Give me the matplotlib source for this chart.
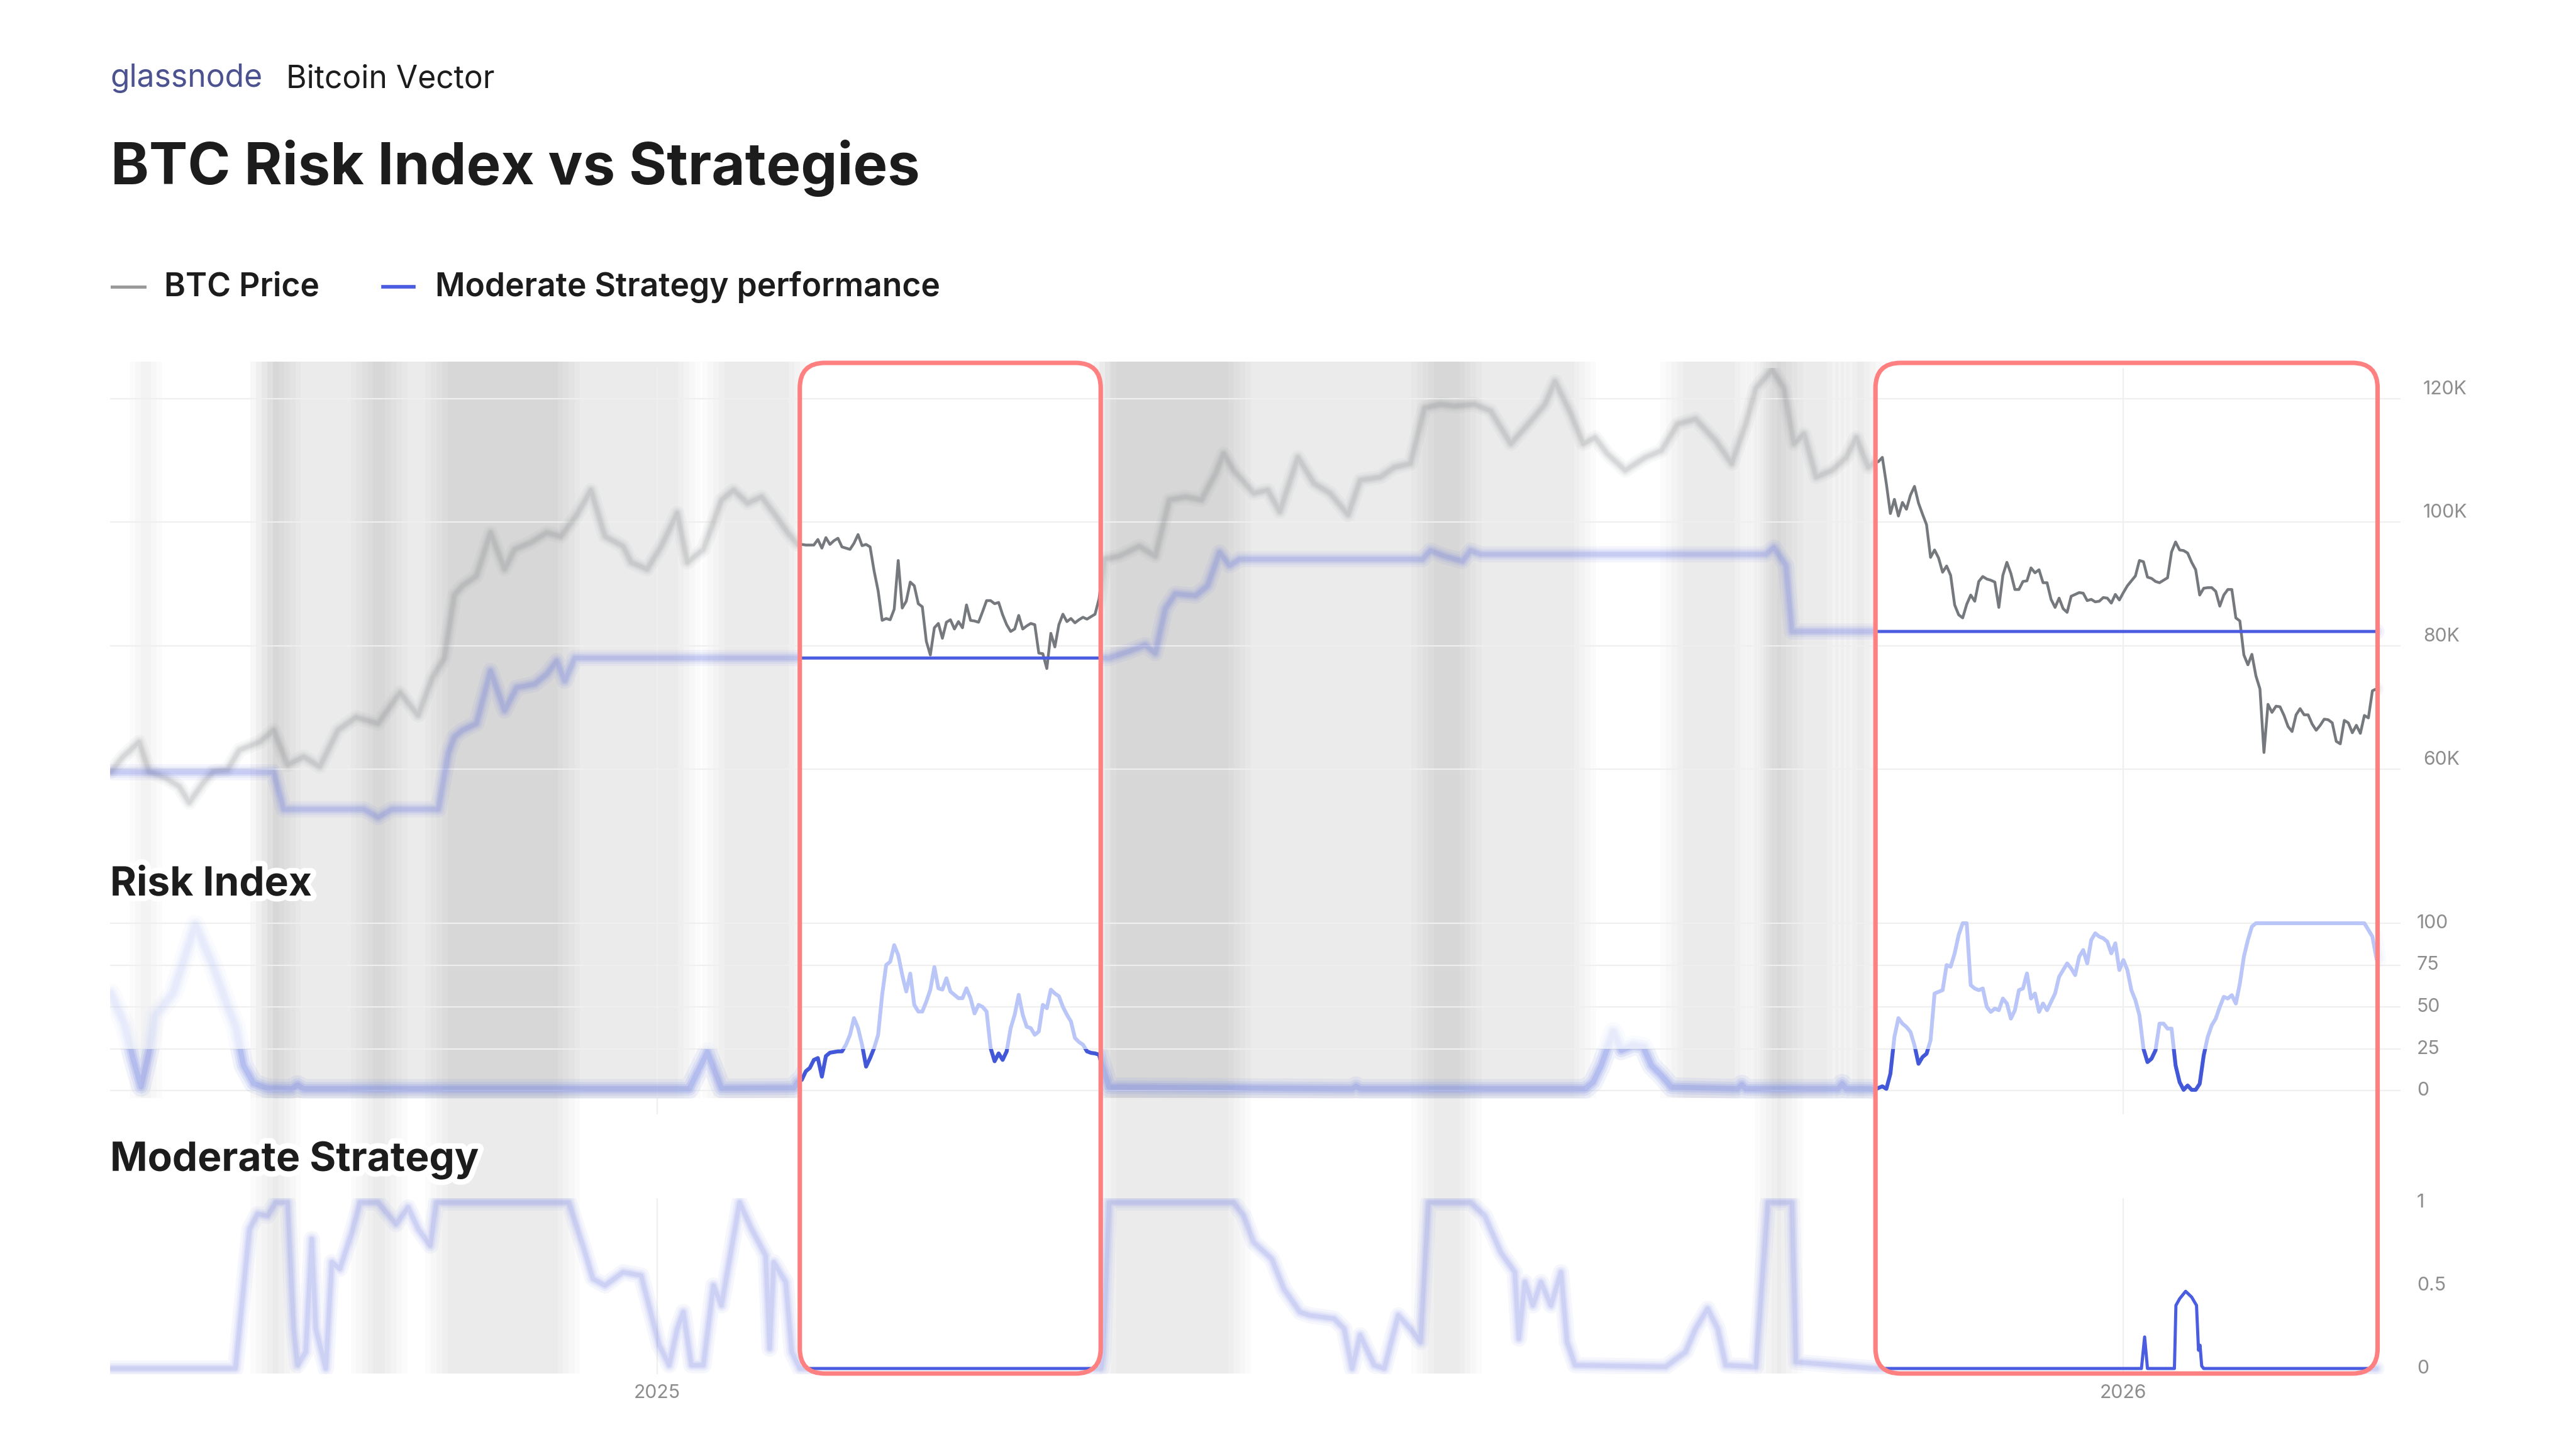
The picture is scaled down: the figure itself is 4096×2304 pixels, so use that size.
import numpy as np
import matplotlib
matplotlib.use("Agg")
import matplotlib.pyplot as plt
import matplotlib.dates as mdates
import matplotlib.patheffects as pe
from matplotlib import transforms as mtransforms
from matplotlib.lines import Line2D
from matplotlib.patches import FancyBboxPatch, Rectangle

plt.rcParams["font.family"] = ["Inter", "DejaVu Sans"]

# ---- data: x in days since 2025-01-01, prices in thousands of USD ----
EPOCH = np.datetime64("2025-01-01T00:00")

PRICE_EARLY_DAYS = [-136, -133, -129, -126.5, -122.5, -119, -116.5, -113, -110.5, -107,
                    -104, -99, -95.5, -92, -88, -84, -79.5, -75, -69.5, -64,
                    -59.5, -56, -53, -50.5, -48.5, -45, -41.5, -38, -35.5, -31.5,
                    -27.5, -24, -20, -16.5, -13, -8.5, -6.5, -2.5, 1, 5,
                    7.5, 11.5, 16, 19, 22.5, 26, 29, 32.5]
PRICE_EARLY = [59.6, 62.0, 64.4, 59.6, 58.6, 57.2, 54.6, 57.8, 59.6, 59.9,
               63.1, 64.4, 66.3, 60.7, 62.0, 60.4, 66.3, 68.4, 67.4, 72.4,
               68.7, 74.8, 78.0, 88.2, 89.7, 91.3, 98.3, 92.4, 95.6, 96.7,
               98.3, 97.7, 101.2, 105.2, 97.7, 96.1, 93.5, 92.4, 96.1, 101.5,
               93.5, 95.6, 103.6, 105.2, 103.1, 104.1, 101.5, 98.3]

BOX1_FIRST = 35
PRICE_BOX1 = [96.4, 96.4, 96.3, 96.3, 96.3, 97.2, 95.8, 97.5, 96.4, 97.0,
              97.4, 96.0, 95.8, 95.6, 96.6, 98.0, 96.2, 96.4, 96.0, 92.1,
              88.9, 84.1, 84.4, 84.2, 85.9, 93.8, 86.1, 87.2, 90.3, 89.7,
              86.8, 86.3, 80.7, 78.5, 82.9, 83.6, 81.2, 83.8, 84.2, 82.7,
              83.9, 82.9, 86.6, 84.1, 84.0, 83.8, 85.5, 87.3, 87.3, 86.8,
              87.0, 85.0, 83.4, 82.3, 82.7, 84.9, 82.7, 83.2, 83.6, 83.4,
              78.8, 78.7, 76.3, 82.0, 79.8, 83.4, 85.1, 83.9, 84.4, 83.7,
              84.2, 84.6, 84.3, 84.7, 85.1, 87.6]

PRICE_MID_DAYS = [111.3, 115, 120, 124, 127.5, 131.5, 135.5, 139, 141, 143.5,
                  148.5, 152, 155, 159.5, 163.5, 167.5, 172, 175, 180, 183.5,
                  187.5, 191, 195, 198.5, 203.5, 207.5, 212.5, 217.5, 221, 223.5,
                  227.5, 230.5, 233.5, 236.5, 241, 246, 250, 254, 258.5, 263.5,
                  267.5, 271, 273.5, 277.5, 280.5, 283, 285.5, 288.5, 292.5, 296,
                  298.5, 301.5]
PRICE_MID = [94.0, 94.5, 96.1, 94.5, 103.6, 104.1, 103.6, 107.9, 111.1, 108.4,
             104.7, 105.2, 101.7, 110.5, 106.3, 104.7, 101.2, 106.8, 107.3, 108.9,
             109.5, 118.5, 119.1, 118.8, 119.1, 118.0, 112.7, 116.4, 119.1, 122.8,
             117.5, 112.7, 113.7, 111.1, 108.4, 110.5, 111.6, 115.9, 116.7, 113.2,
             109.5, 115.9, 121.7, 124.7, 121.7, 112.7, 114.3, 107.3, 108.4, 110.5,
             113.7, 108.9]

BOX2_FIRST = 303
PRICE_BOX2 = [109.6, 109.8, 110.5, 106.2, 101.4, 103.7, 101.0, 103.2, 102.1, 104.4,
              105.8, 103.1, 101.3, 99.6, 94.3, 95.5, 94.2, 91.9, 92.9, 91.4,
              86.6, 85.0, 84.5, 86.7, 88.2, 87.2, 90.4, 91.2, 90.8, 90.6,
              90.3, 86.2, 91.4, 93.5, 91.7, 89.1, 89.1, 90.4, 90.5, 92.6,
              91.8, 92.3, 90.2, 90.2, 87.5, 86.2, 87.7, 86.0, 85.4, 88.0,
              88.3, 88.6, 88.5, 87.3, 87.5, 87.1, 87.2, 87.8, 87.7, 86.9,
              88.3, 87.4, 88.6, 89.7, 90.5, 91.3, 93.8, 93.6, 91.1, 90.9,
              90.4, 90.2, 90.6, 91.0, 95.2, 96.8, 95.5, 95.4, 95.0, 93.5,
              92.3, 88.2, 89.3, 89.4, 89.4, 88.8, 86.4, 88.2, 89.1, 89.1,
              84.5, 84.0, 78.5, 76.9, 78.6, 75.1, 73.0, 62.7, 70.5, 69.2,
              70.2, 70.1, 68.7, 66.9, 66.1, 68.8, 69.8, 68.8, 68.8, 67.3,
              66.3, 67.1, 68.1, 68.0, 67.5, 64.5, 64.1, 67.9, 67.5, 65.9,
              67.1, 65.8, 68.7, 68.3, 72.7, 73.0]

PERF_DAYS = [-136, -95.5, -93, -73, -69.5, -66, -54.5, -52, -50.5, -48.5,
             -45, -41.5, -38, -35, -30.5, -27.5, -25, -23, -20.5, 112.5,
             117.5, 121.5, 124, 126.5, 129, 134, 137, 140, 142.5, 145,
             190.5, 192.5, 196, 200.5, 202.5, 205, 276, 278, 281, 282.5,
             286, 428]
PERF = [59.5, 59.5, 53.5, 53.5, 52.2, 53.5, 53.5, 62.6, 65.2, 66.3,
        67.4, 75.9, 69.5, 73.2, 73.8, 75.4, 77.5, 74.3, 78.0, 78.0,
        79.1, 80.1, 78.8, 86.0, 88.4, 88.1, 89.7, 95.1, 93.0, 94.0,
        94.0, 95.4, 94.5, 93.7, 95.4, 94.8, 94.8, 95.9, 93.0, 82.3,
        82.3, 82.3]

RISK_EARLY_DAYS = [-136, -132.5, -130.5, -128.5, -126.5, -125, -120.5, -115, -110.5, -107,
                   -105, -103, -100.5, -97, -91, -89.5, -88, 8, 12.5, 16, 34]
RISK_EARLY = [58, 38.7, 19.0, 2.3, 23.0, 44.6, 58.4, 99.0, 74.2, 50.6,
              38.7, 15.1, 4.3, 1.3, 1.0, 3.3, 1.0, 1.0, 23.0, 1.3, 1.5]
RISK_BOX1 = [5, 6.4, 11.5, 13.5, 18.3, 19.4, 8.3, 20.6, 22.6, 23.0,
             23.4, 23.4, 27.4, 33.3, 43.3, 37.3, 27.4, 14.3, 19.4, 25.4,
             33.3, 57.2, 75.0, 77.0, 86.9, 81.0, 69.1, 59.2, 69.9, 51.2,
             47.2, 47.2, 53.2, 60.3, 73.8, 61.1, 60.3, 67.1, 59.2, 57.2,
             55.2, 55.2, 61.1, 55.2, 46.1, 51.2, 50.0, 47.2, 25.4, 17.5,
             22.2, 18.3, 23.4, 37.3, 45.3, 57.2, 45.3, 38.1, 37.3, 33.3,
             35.3, 51.2, 49.2, 60.3, 58.0, 56.4, 50.0, 45.3, 41.3, 31.4,
             29.0, 27.4, 23.4, 22.5, 22.2, 21.4]
RISK_MID_DAYS = [110.7, 112.5, 173, 174, 175, 231, 233, 235, 238, 240,
                 243, 245.5, 247.5, 250, 252.5, 269, 270, 271, 294, 295,
                 296, 302]
RISK_MID = [15, 2, 1, 2.5, 1, 1, 5, 15, 35, 24,
            27, 26, 15, 9, 2, 1, 3.5, 1, 1, 4,
            1, 1]
RISK_BOX2 = [0.4, 1.5, 2.5, 1.0, 10, 32, 43.3, 40, 38, 35,
             27, 16, 20, 22, 30, 58, 59, 60, 75, 74,
             82, 93, 100, 100, 63, 61, 60, 61, 50, 47,
             49, 48, 55, 52, 43, 48, 60, 61, 70, 55,
             58, 47, 52, 48, 53, 58, 68, 72, 76, 73,
             69, 80, 84, 76, 90, 94, 92, 91, 89, 82,
             88, 72, 78, 72, 60, 54, 45, 25, 17, 19,
             24, 40, 40, 37, 37, 15, 5, 0.4, 3, 0.4,
             0.4, 4, 21, 32, 39, 43, 50, 56, 55, 57,
             52, 64, 80, 90, 98, 100, 100, 100, 100, 100,
             100, 100, 100, 100, 100, 100, 100, 100, 100, 100,
             100, 100, 100, 100, 100, 100, 100, 100, 100, 100,
             100, 100, 100, 96, 92, 79]

STRAT_EARLY_DAYS = [-136, -105, -101.5, -99.5, -97, -95, -92, -90.5, -89.5, -87.5,
                    -86, -85, -82.5, -81, -79, -76, -74, -69.5, -65, -62,
                    -59.5, -56.5, -55, -22, -18.5, -16, -13, -8.5, -4, 0.5,
                    3, 5, 6.5, 8.5, 11.5, 14, 16, 20.5, 23.5, 27,
                    28, 29, 32, 33.5, 35.5]
STRAT_EARLY = [0, 0, 0.84, 0.93, 0.92, 1.0, 1.0, 0.24, 0.02, 0.10,
               0.78, 0.24, 0, 0.64, 0.60, 0.82, 1.0, 1.0, 0.87, 0.97,
               0.84, 0.74, 1.0, 1.0, 0.74, 0.54, 0.50, 0.58, 0.56, 0.14,
               0.02, 0.24, 0.34, 0.02, 0.02, 0.50, 0.38, 1.0, 0.84, 0.68,
               0.12, 0.64, 0.52, 0.10, 0.0]
STRAT_MID_DAYS = [110.5, 111, 112.5, 143.5, 146, 148.5, 153, 156, 160, 162.5,
                  168.5, 171, 173, 175, 178.5, 181, 184.5, 187.5, 190, 192,
                  202.5, 206, 210, 213.5, 214.5, 216, 218, 220, 222.5, 225,
                  226.5, 228.5, 251, 256, 258.5, 261.5, 264, 266, 273.5, 276.5,
                  282.5, 283.5, 303]
STRAT_MID = [0, 0.08, 1.0, 1.0, 0.92, 0.76, 0.66, 0.48, 0.34, 0.32,
             0.30, 0.24, 0, 0.20, 0.02, 0, 0.32, 0.24, 0.16, 1.0,
             1.0, 0.92, 0.70, 0.58, 0.18, 0.52, 0.38, 0.52, 0.38, 0.58,
             0.16, 0.02, 0.01, 0.10, 0.24, 0.36, 0.24, 0.02, 0.01, 1.0,
             1.0, 0.04, 0]
STRAT_LATE_DAYS = [303.5, 369.5, 370.3, 371, 377.7, 378.1, 379, 380.5, 382, 383.2,
                   383.7, 384.1, 384.5, 385, 428]
STRAT_LATE = [0, 0, 0.19, 0, 0, 0.38, 0.42, 0.465, 0.43, 0.38,
              0.11, 0.14, 0.015, 0, 0]

# shaded regimes (day ranges): price+risk panels only, and all three panels
SHADE_TOP = [(-128.5, -126), (-98.5, 8), (14, 35.5), (110, 231), (252.5, 271),
             (274, 294), (296, 303.3)]
SHADE_ALL = [(-98.5, -91.5), (-73.5, -65), (-55, -22), (111.5, 145), (190.5, 202.5),
             (276, 282.5)]
HIGHLIGHTS = [(35.5, 110.4), (303.3, 428.3)]

PRICE_TICKS = [60, 80, 100, 120]
PRICE_LABELS = ["60K", "80K", "100K", "120K"]
RISK_TICKS = [0, 25, 50, 75, 100]
RISK_LABELS = ["0", "25", "50", "75", "100"]
STRAT_TICKS = [0, 0.5, 1]
STRAT_LABELS = ["0", "0.5", "1"]
YEAR_DAYS = [0, 365]
YEAR_LABELS = ["2025", "2026"]
RISK_LOW = 25

# ---- layout, in pixels of the 4096 x 2304 canvas ----
W, H, DPI = 4096, 2304, 256
X0, X1 = 175, 3817
XLIM_DAYS = (-136.2, 434.0)
BG_PX = (575, 2184)
TOP_SHADE_BOTTOM = 1746
PRICE_PX, PRICE_REF = (585, 1360), ((120, 634), (60, 1223))
RISK_PX, RISK_REF = (1360, 1772), ((100, 1468), (0, 1734))
STRAT_PX, STRAT_REF = (1905, 2185), ((1, 1912), (0, 2176))
BOX_TOP, BOX_BOT, BOX_RADIUS = 577, 2184, 40

GREY_LINE = "#75787d"
BLUE = "#4a5cdf"
RISK_LIGHT = "#b9c6f7"
RISK_DARK = "#4357d9"
GRID = "#efefef"
TICK_C = "#8d8d8d"
BOX_C = "#ff8080"
TEXT_C = "#1c1c1c"


def xnum(days):
    hours = np.round(np.asarray(days, dtype=float) * 24).astype("int64")
    return mdates.date2num(EPOCH + hours.astype("timedelta64[h]"))


def daily(first, values):
    return np.arange(first, first + len(values))


price_x = xnum(np.concatenate([PRICE_EARLY_DAYS, daily(BOX1_FIRST, PRICE_BOX1),
                               PRICE_MID_DAYS, daily(BOX2_FIRST, PRICE_BOX2)]))
price_y = np.concatenate([PRICE_EARLY, PRICE_BOX1, PRICE_MID, PRICE_BOX2])
risk_x = xnum(np.concatenate([RISK_EARLY_DAYS, daily(BOX1_FIRST, RISK_BOX1),
                              RISK_MID_DAYS, daily(BOX2_FIRST, RISK_BOX2)]))
risk_y = np.concatenate([RISK_EARLY, RISK_BOX1, RISK_MID, RISK_BOX2])
strat_x = xnum(np.concatenate([STRAT_EARLY_DAYS, STRAT_MID_DAYS, STRAT_LATE_DAYS]))
strat_y = np.concatenate([STRAT_EARLY, STRAT_MID, STRAT_LATE])
perf_x = xnum(PERF_DAYS)
perf_y = np.asarray(PERF)

fig = plt.figure(figsize=(W / DPI, H / DPI), dpi=DPI, facecolor="white")
XLIM = (xnum(XLIM_DAYS[0]), xnum(XLIM_DAYS[1]))


def panel(top, bot, z):
    ax = fig.add_axes([X0 / W, 1 - bot / H, (X1 - X0) / W, (bot - top) / H], zorder=z)
    ax.set_axis_off()
    ax.set_xlim(XLIM)
    return ax


def ylim_for(px, ref):
    (va, pa), (vb, pb) = ref
    k = (vb - va) / (pb - pa)
    return va + (px[1] - pa) * k, va + (px[0] - pa) * k


def soft_span(ax, d0, d1, ymin, ymax, alpha=0.0161, spread=2.8, n=5):
    # stacked spans give the soft, blurred band edges
    for e in np.linspace(-spread, spread, n):
        a, b = d0 - e, d1 + e
        if b > a:
            ax.axvspan(xnum(a), xnum(b), ymin=ymin, ymax=ymax, color="black",
                       alpha=alpha, lw=0)


# wide faint strokes under narrower ones imitate a blurred line
BLUR_STROKES = [(5.2, 0.06), (3.6, 0.08), (2.4, 0.11), (1.4, 0.13)]


def blur_plot(ax, x, y, color, lw, strength=1.0, clip=None):
    for k, a in BLUR_STROKES:
        ln, = ax.plot(x, y, color=color, lw=lw * k, alpha=a * strength,
                      solid_joinstyle="round", solid_capstyle="round")
        if clip is not None:
            ln.set_clip_path(clip)


def disp_y(ax, v):
    return ax.transData.transform((XLIM[0], v))[1]


# background regimes
ax_bg = panel(BG_PX[0], BG_PX[1], 0)
ax_bg.set_ylim(0, 1)
top_frac = (BG_PX[1] - TOP_SHADE_BOTTOM) / (BG_PX[1] - BG_PX[0])
for d0, d1 in SHADE_ALL:
    soft_span(ax_bg, d0, d1, 0, 1)
for d0, d1 in SHADE_TOP:
    soft_span(ax_bg, d0, d1, top_frac, 1)

# blurred layer
bp, br, bm = panel(*PRICE_PX, 1), panel(*RISK_PX, 1), panel(*STRAT_PX, 1)
# crisp layer, shown only inside the highlight boxes
cp, cr, cm = panel(*PRICE_PX, 3), panel(*RISK_PX, 3), panel(*STRAT_PX, 3)
for ax, px, ref in [(bp, PRICE_PX, PRICE_REF), (br, RISK_PX, RISK_REF), (bm, STRAT_PX, STRAT_REF),
                    (cp, PRICE_PX, PRICE_REF), (cr, RISK_PX, RISK_REF), (cm, STRAT_PX, STRAT_REF)]:
    ax.set_ylim(ylim_for(px, ref))

for v in PRICE_TICKS:
    bp.axhline(v, color=GRID, lw=0.6, zorder=0)
for v in RISK_TICKS:
    br.axhline(v, color=GRID, lw=0.6, zorder=0)
for ax in (bp, br, bm):
    for d in YEAR_DAYS:
        ax.axvline(xnum(d), color=GRID, lw=0.6, zorder=0)

blur_plot(bp, price_x, price_y, GREY_LINE, 1.25, 0.85)
blur_plot(bp, perf_x, perf_y, BLUE, 1.4, 0.9)
blur_plot(br, risk_x, risk_y, RISK_LIGHT, 1.7)
y_low = disp_y(br, RISK_LOW)
y_rbot = H - RISK_PX[1]
low_all = Rectangle((X0, y_rbot), X1 - X0, y_low - y_rbot,
                    transform=mtransforms.IdentityTransform())
blur_plot(br, risk_x, risk_y, RISK_DARK, 1.7, 0.85, clip=low_all)
blur_plot(bm, strat_x, strat_y, BLUE, 1.4, 0.8)

for d0, d1 in HIGHLIGHTS:
    bx0, bx1 = ax_bg.transData.transform([[xnum(d0), 0], [xnum(d1), 0]])[:, 0]
    y0, y1 = H - BOX_BOT, H - BOX_TOP

    def rounded(**kw):
        return FancyBboxPatch((bx0, y0), bx1 - bx0, y1 - y0,
                              boxstyle=f"round,pad=0,rounding_size={BOX_RADIUS}",
                              transform=mtransforms.IdentityTransform(), **kw)

    fig.add_artist(rounded(facecolor="white", edgecolor="none", zorder=2))
    fig.add_artist(rounded(facecolor="none", edgecolor=BOX_C, lw=2.0, zorder=4))
    clip = rounded(facecolor="none", edgecolor="none")

    cp.hlines(PRICE_TICKS, xnum(d0), xnum(d1), colors=GRID, lw=0.6, zorder=0)
    cr.hlines(RISK_TICKS, xnum(d0), xnum(d1), colors=GRID, lw=0.6, zorder=0)
    for ax in (cp, cr, cm):
        for d in YEAR_DAYS:
            ax.axvline(xnum(d), color=GRID, lw=0.6, zorder=0).set_clip_path(clip)

    for ax, x, y, c, lw in [(cp, price_x, price_y, GREY_LINE, 1.25),
                            (cp, perf_x, perf_y, BLUE, 1.4),
                            (cr, risk_x, risk_y, RISK_LIGHT, 1.7),
                            (cm, strat_x, strat_y, BLUE, 1.4)]:
        ln, = ax.plot(x, y, color=c, lw=lw, solid_joinstyle="round")
        ln.set_clip_path(clip)
    low_box = Rectangle((bx0, y_rbot), bx1 - bx0, y_low - y_rbot,
                        transform=mtransforms.IdentityTransform())
    ln, = cr.plot(risk_x, risk_y, color=RISK_DARK, lw=1.7, solid_joinstyle="round")
    ln.set_clip_path(low_box)


def shift(dx, dy):
    return mtransforms.ScaledTranslation(dx / DPI, dy / DPI, fig.dpi_scale_trans)


tick_kw = dict(fontsize=8.5, color=TICK_C, ha="left", va="center")
for ax, ticks, labels, dx, dy in [(cp, PRICE_TICKS, PRICE_LABELS, 36, 15),
                                  (cr, RISK_TICKS, RISK_LABELS, 26, 0),
                                  (cm, STRAT_TICKS, STRAT_LABELS, 26, 0)]:
    tr = mtransforms.blended_transform_factory(ax.transAxes, ax.transData) + shift(dx, dy)
    for v, lab in zip(ticks, labels):
        ax.text(1, v, lab, transform=tr, **tick_kw)
tr = mtransforms.blended_transform_factory(cm.transData, cm.transAxes) + shift(0, -30)
for d, lab in zip(YEAR_DAYS, YEAR_LABELS):
    cm.text(xnum(d), 0, lab, transform=tr, fontsize=8.5, color=TICK_C,
            ha="center", va="center")


def fx(px):
    return px / W


def fy(py):
    return 1 - py / H


fig.text(fx(175), fy(138), "glassnode", fontsize=14, color="#4c5190", va="baseline")
fig.text(fx(455), fy(140), "Bitcoin Vector", fontsize=14, color=TEXT_C, va="baseline")
fig.text(fx(176), fy(293), "BTC Risk Index vs Strategies", fontsize=25.9,
         fontweight="bold", color=TEXT_C, va="baseline")

fig.add_artist(Line2D([fx(178), fx(230)], [fy(456)] * 2, color="#9a9a9a", lw=1.4))
fig.text(fx(261), fy(457), "BTC Price", fontsize=14.5, fontweight="semibold",
         color=TEXT_C, va="center")
fig.add_artist(Line2D([fx(609), fx(658)], [fy(456)] * 2, color=BLUE, lw=1.6))
fig.text(fx(692), fy(457), "Moderate Strategy performance", fontsize=14.5,
         fontweight="semibold", color=TEXT_C, va="center")

halo = [pe.withStroke(linewidth=5, foreground="white")]
fig.text(fx(175), fy(1407), "Risk Index", fontsize=18, fontweight="bold",
         color=TEXT_C, va="center", path_effects=halo, zorder=6)
fig.text(fx(175), fy(1845), "Moderate Strategy", fontsize=18, fontweight="bold",
         color=TEXT_C, va="center", path_effects=halo, zorder=6)

fig.savefig("out.png", dpi=DPI, facecolor="white")
